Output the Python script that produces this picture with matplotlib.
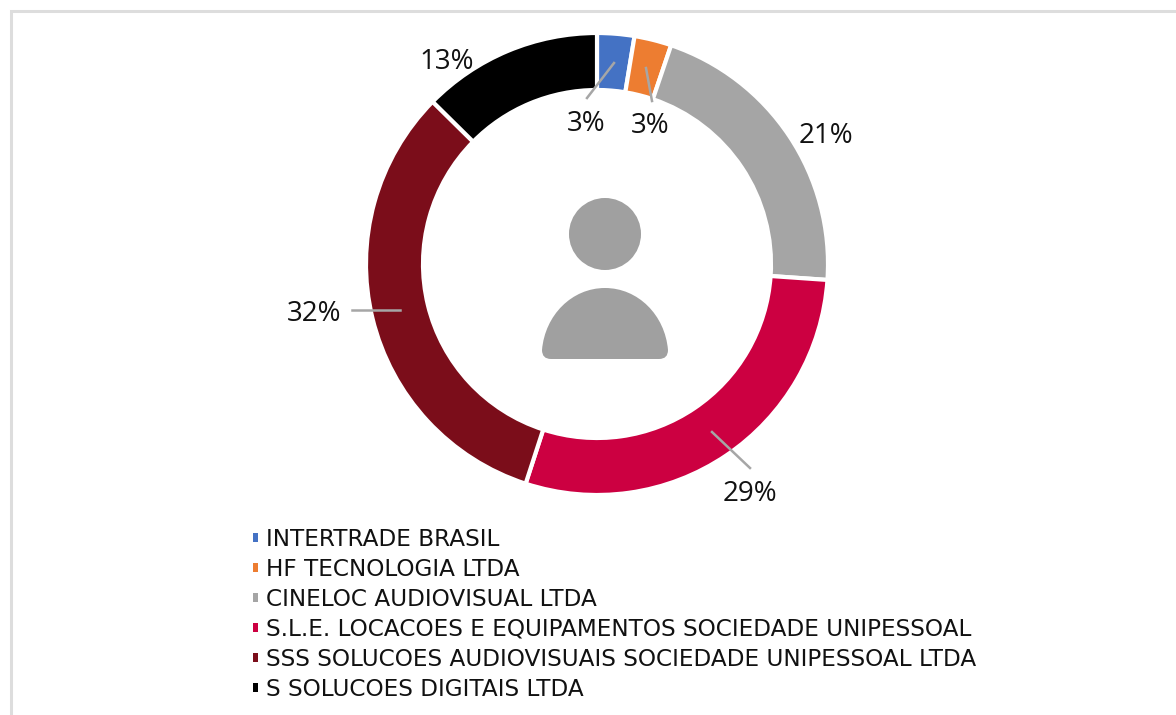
import matplotlib.pyplot as plt
from matplotlib.patches import Circle, PathPatch
from matplotlib.path import Path

# fatias do donut
empresas = ['INTERTRADE BRASIL', 'HF TECNOLOGIA LTDA', 'CINELOC AUDIOVISUAL LTDA',
            'S.L.E. LOCACOES E EQUIPAMENTOS SOCIEDADE UNIPESSOAL',
            'SSS SOLUCOES AUDIOVISUAIS SOCIEDADE UNIPESSOAL LTDA',
            'S SOLUCOES DIGITAIS LTDA']
valores = [2.6, 2.6, 20.9, 28.9, 32.4, 12.6]
rotulos = ['3%', '3%', '21%', '29%', '32%', '13%']
cores = ['#4472C4', '#ED7D31', '#A5A5A5', '#CC0041', '#7B0D1A', '#000000']

W, H = 1176, 715
cx, cy = 597, H - 264

plt.rcParams['font.family'] = ['DejaVu Sans']

fig = plt.figure(figsize=(W / 100, H / 100), dpi=100)
ax = fig.add_axes([0, 0, 1, 1])

wedges, _ = ax.pie(valores, startangle=90, counterclock=False, radius=231, center=(cx, cy),
                   colors=cores, wedgeprops=dict(width=57, edgecolor='white', linewidth=3))
ax.set_xlim(0, W)
ax.set_ylim(0, H)
ax.set_aspect('equal')
ax.axis('off')

# borda cinza do quadro
ax.plot([10.5, 10.5, W], [0, H - 10.5, H - 10.5], color='#DDDDDD', lw=2.2, solid_joinstyle='miter')

# linhas de chamada e rotulos
linhas = [((614, 63), (587, 98)), ((646, 68), (652, 101)), None,
          ((712, 432), (750, 468)), ((400, 310), (352, 310)), None]
pos_rotulos = [(586, 124), (650, 126), (826, 136), (750, 494), (314, 314), (447, 62)]
for ln in linhas:
    if ln:
        ax.plot([ln[0][0], ln[1][0]], [H - ln[0][1], H - ln[1][1]], color='#A6A6A6', lw=1.8)
for txt, (x, y) in zip(rotulos, pos_rotulos):
    ax.text(x, H - y, txt, fontsize=20, family='Open Sans', color='#111111', ha='center', va='center')

# icone de pessoa no centro
cinza = '#A0A0A0'
ax.add_patch(Circle((605, H - 234), 36, color=cinza, lw=0))
verts = [(551, 359), (542, 359), (542, 350), (542, 350),
         (545, 315), (572, 288), (605, 288),
         (638, 288), (665, 315), (668, 350),
         (668, 359), (659, 359), (659, 359), (551, 359)]
verts = [(x, H - y) for x, y in verts]
codes = [Path.MOVETO, Path.CURVE3, Path.CURVE3, Path.LINETO,
         Path.CURVE4, Path.CURVE4, Path.CURVE4,
         Path.CURVE4, Path.CURVE4, Path.CURVE4,
         Path.CURVE3, Path.CURVE3, Path.LINETO, Path.CLOSEPOLY]
ax.add_patch(PathPatch(Path(verts, codes), facecolor=cinza, lw=0))

leg = ax.legend(wedges, empresas, loc='upper left', bbox_to_anchor=(252.5 / W, (H - 528) / H),
                bbox_transform=fig.transFigure, frameon=False, fontsize=16.65, handlelength=0.25,
                handleheight=0.2, handletextpad=0.32, labelspacing=0.3, borderpad=0, borderaxespad=0,
                labelcolor='#111111')
for h in leg.legend_handles:
    h.set_linewidth(0)

fig.savefig('out.png', dpi=100)
